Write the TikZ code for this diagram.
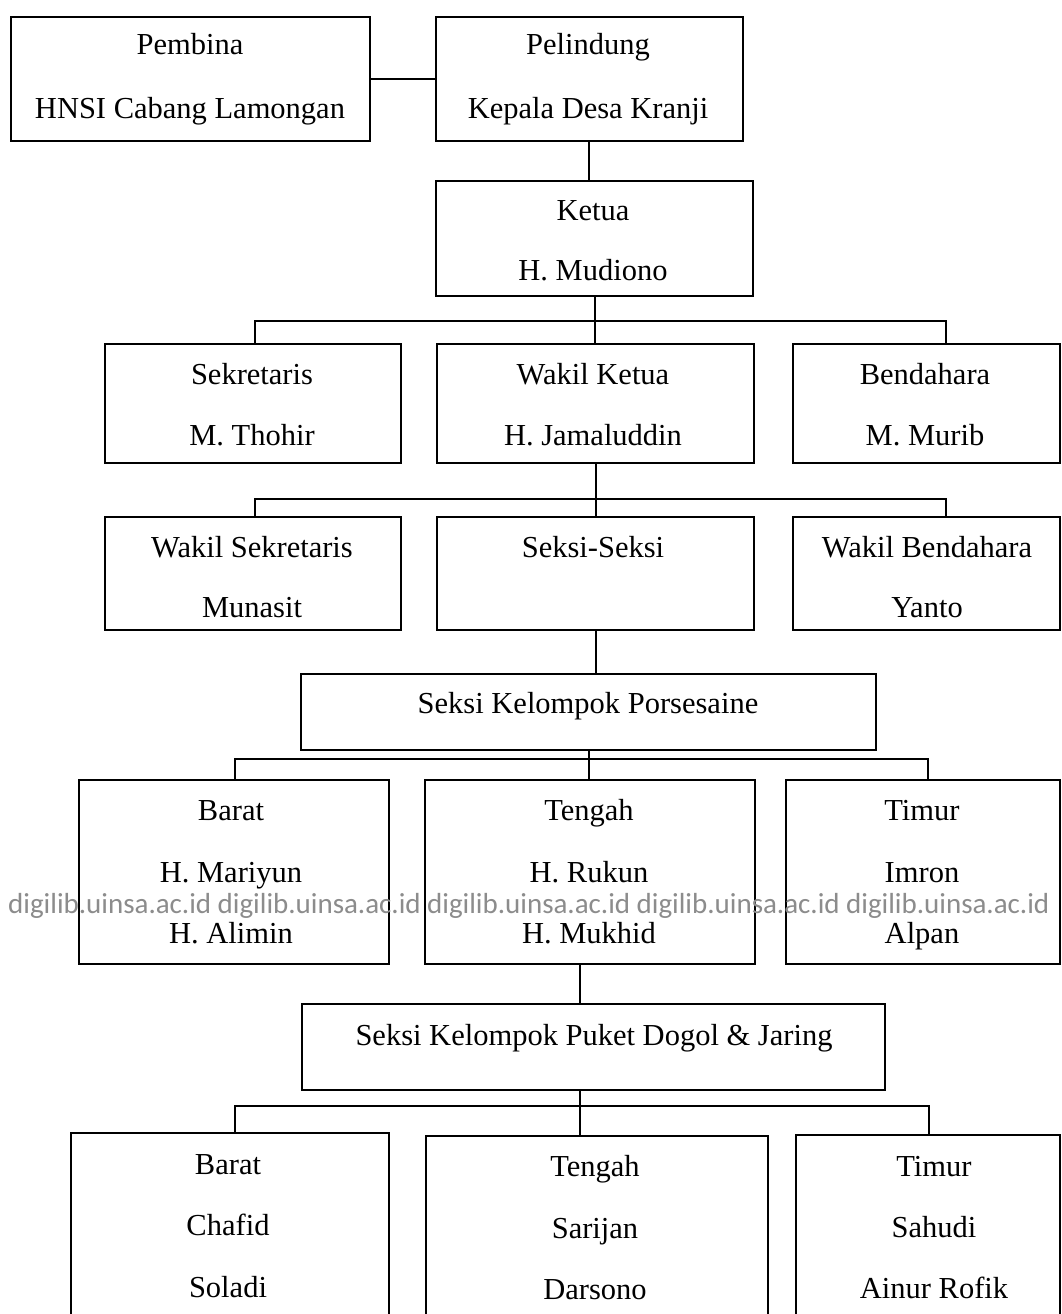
\documentclass[tikz,border=0pt]{standalone}
\usepackage{fontspec}
\setmainfont{Liberation Serif}
\newfontfamily\wmfont{Carlito}
\begin{document}
\begin{tikzpicture}[x=1pt,y=-1pt,
  box/.style={draw=black, line width=2.3pt, rectangle, inner sep=0pt, anchor=north west},
  txt/.style={anchor=base, inner sep=0pt, font=\fontsize{30.5}{36}\selectfont},
  conn/.style={draw=black, line width=2.3pt},
  wm/.style={anchor=base west, inner sep=0pt, text=black!45, font=\wmfont\fontsize{29}{34}\selectfont}]
\useasboundingbox (0,0) rectangle (1061,1314);
\clip (0,0) rectangle (1061,1314);
\fill[white] (0,0) rectangle (1061,1314);
% boxes
\node[box, minimum width=359pt, minimum height=124pt] (pembina) at (10,16) {};
\node[box, minimum width=307pt, minimum height=124pt] (pelindung) at (435,16) {};
\node[box, minimum width=317pt, minimum height=115pt] (ketua) at (435,180) {};
\node[box, minimum width=296pt, minimum height=119pt] (sek) at (104,343) {};
\node[box, minimum width=317pt, minimum height=119pt] (wk) at (436,343) {};
\node[box, minimum width=267pt, minimum height=119pt] (ben) at (792,343) {};
\node[box, minimum width=296pt, minimum height=113pt] (wsek) at (104,516) {};
\node[box, minimum width=317pt, minimum height=113pt] (seksi) at (436,516) {};
\node[box, minimum width=267pt, minimum height=113pt] (wben) at (792,516) {};
\node[box, minimum width=575pt, minimum height=76pt] (pors) at (300,673) {};
\node[box, minimum width=310pt, minimum height=184pt] (baratA) at (78,779) {};
\node[box, minimum width=330pt, minimum height=184pt] (tengahA) at (424,779) {};
\node[box, minimum width=274pt, minimum height=184pt] (timurA) at (785,779) {};
\node[box, minimum width=583pt, minimum height=86pt] (puket) at (301,1003) {};
\node[box, minimum width=318pt, minimum height=230pt] (baratB) at (70,1132) {};
\node[box, minimum width=342pt, minimum height=230pt] (tengahB) at (425,1135) {};
\node[box, minimum width=264pt, minimum height=230pt] (timurB) at (795,1134) {};
% texts
\node[txt] (t1a) at (190,55) {Pembina};
\node[txt] (t1b) at (190,118) {HNSI Cabang Lamongan};
\node[txt] (t2a) at (588,55) {Pelindung};
\node[txt] (t2b) at (588,118) {Kepala Desa Kranji};
\node[txt] (t3a) at (593,220) {Ketua};
\node[txt] (t3b) at (593,280) {H. Mudiono};
\node[txt] (t4a) at (252,384) {Sekretaris};
\node[txt] (t4b) at (252,445) {M. Thohir};
\node[txt] (t5a) at (593,384) {Wakil Ketua};
\node[txt] (t5b) at (593,445) {H. Jamaluddin};
\node[txt] (t6a) at (925,384) {Bendahara};
\node[txt] (t6b) at (925,445) {M. Murib};
\node[txt] (t7a) at (252,557) {Wakil Sekretaris};
\node[txt] (t7b) at (252,617) {Munasit};
\node[txt] (t8a) at (593,557) {Seksi-Seksi};
\node[txt] (t9a) at (927,557) {Wakil Bendahara};
\node[txt] (t9b) at (927,617) {Yanto};
\node[txt] (t10) at (588,713) {Seksi Kelompok Porsesaine};
\node[txt] (t11a) at (231,820) {Barat};
\node[txt] (t11b) at (231,882) {H. Mariyun};
\node[txt] (t11c) at (231,943) {H. Alimin};
\node[txt] (t12a) at (589,820) {Tengah};
\node[txt] (t12b) at (589,882) {H. Rukun};
\node[txt] (t12c) at (589,943) {H. Mukhid};
\node[txt] (t13a) at (922,820) {Timur};
\node[txt] (t13b) at (922,882) {Imron};
\node[txt] (t13c) at (922,943) {Alpan};
\node[txt] (t14) at (594,1045) {Seksi Kelompok Puket Dogol \& Jaring};
\node[txt] (t15a) at (228,1174) {Barat};
\node[txt] (t15b) at (228,1235) {Chafid};
\node[txt] (t15c) at (228,1297) {Soladi};
\node[txt] (t16a) at (595,1176) {Tengah};
\node[txt] (t16b) at (595,1238) {Sarijan};
\node[txt] (t16c) at (595,1299) {Darsono};
\node[txt] (t17a) at (934,1176) {Timur};
\node[txt] (t17b) at (934,1237) {Sahudi};
\node[txt] (t17c) at (934,1298) {Ainur Rofik};
% bus coordinates
\coordinate (b1l) at (255,321);
\coordinate (b1r) at (946,321);
\coordinate (b2l) at (255,499);
\coordinate (b2r) at (946,499);
\coordinate (b3l) at (235,759);
\coordinate (b3r) at (928,759);
\coordinate (c4) at (580,963);
\coordinate (b4l) at (235,1106);
\coordinate (b4r) at (929,1106);
% connectors
\draw[conn] (pembina.east) -- (pelindung.west);
\draw[conn] ([xshift=-1pt]pelindung.south) -- ([xshift=-1pt]pelindung.south |- ketua.north);
\draw[conn] (b1l |- sek.north) -- (b1l) -- (b1r) -- (b1r |- ben.north);
\draw[conn] (ketua.south) -- (ketua.south |- wk.north);
\draw[conn] (b2l |- wsek.north) -- (b2l) -- (b2r) -- (b2r |- wben.north);
\draw[conn] (wk.south) -- (wk.south |- seksi.north);
\draw[conn] (seksi.south) -- (seksi.south |- pors.north);
\draw[conn] (b3l |- baratA.north) -- (b3l) -- (b3r) -- (b3r |- timurA.north);
\draw[conn] (pors.south) -- (pors.south |- tengahA.north);
\draw[conn] (c4) -- (c4 |- puket.north);
\draw[conn] (b4l |- baratB.north) -- (b4l) -- (b4r) -- (b4r |- timurB.north);
\draw[conn] (c4 |- puket.south) -- (c4 |- tengahB.north);
% watermark
\node[wm] (wmark) at (8,913) {digilib.uinsa.ac.id digilib.uinsa.ac.id digilib.uinsa.ac.id digilib.uinsa.ac.id digilib.uinsa.ac.id};
\end{tikzpicture}
\end{document}
